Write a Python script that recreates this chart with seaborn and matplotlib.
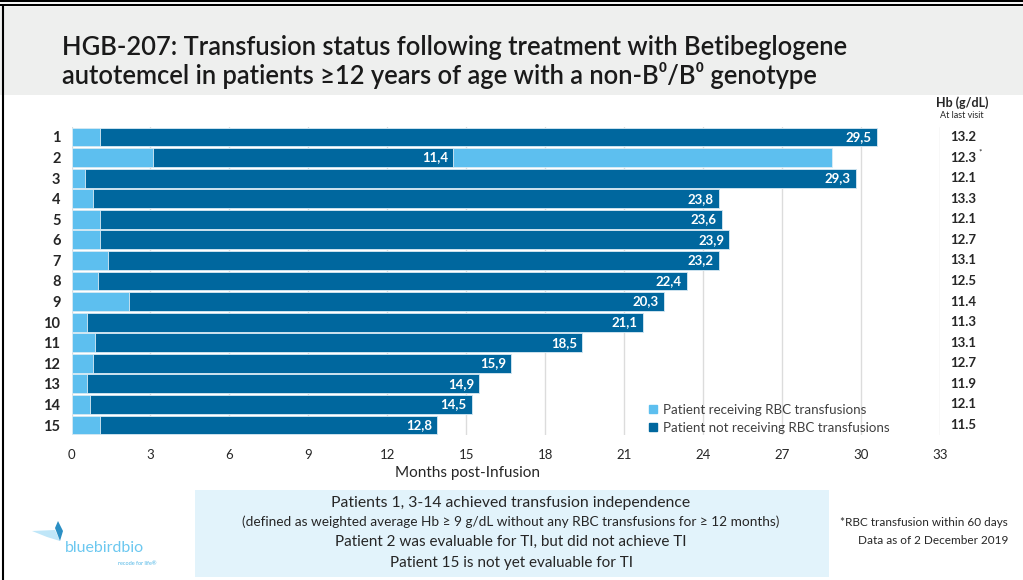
import numpy as np
import pandas as pd
import matplotlib
matplotlib.use("Agg")
import matplotlib.pyplot as plt
from matplotlib.patches import Rectangle, Polygon
from matplotlib.lines import Line2D
import matplotlib.transforms as mtransforms
import seaborn as sns

# ---------------- data ----------------
patients = [str(i) for i in range(1, 16)]
transfusion_start = [1.1, 3.1, 0.5, 0.8, 1.1, 1.1, 1.4, 1.0, 2.2, 0.6, 0.9, 0.8, 0.6, 0.7, 1.1]
free_months = [29.5, 11.4, 29.3, 23.8, 23.6, 23.9, 23.2, 22.4, 20.3, 21.1, 18.5, 15.9, 14.9, 14.5, 12.8]
transfusion_after = [0, 14.4, 0, 0, 0, 0, 0, 0, 0, 0, 0, 0, 0, 0, 0]
free_labels = ["29,5", "11,4", "29,3", "23,8", "23,6", "23,9", "23,2", "22,4",
               "20,3", "21,1", "18,5", "15,9", "14,9", "14,5", "12,8"]
hb_values = ["13.2", "12.3", "12.1", "13.3", "12.1", "12.7", "13.1", "12.5",
             "11.4", "11.3", "13.1", "12.7", "11.9", "12.1", "11.5"]
hb_marks = ["", "*", "", "", "", "", "", "", "", "", "", "", "", "", ""]
x_ticks = [0, 3, 6, 9, 12, 15, 18, 21, 24, 27, 30, 33]
legend_labels = ["Patient receiving RBC transfusions", "Patient not receiving RBC transfusions"]

LIGHT = "#5dbfef"
DARK = "#00679e"
TXT = "#262626"

sns.set_theme(style="white")
plt.rcParams["font.family"] = ["Lato", "DejaVu Sans"]

light_end = np.array(transfusion_start)
dark_end = light_end + np.array(free_months)
total_end = dark_end + np.array(transfusion_after)
df = pd.DataFrame({"patient": patients, "light_end": light_end,
                   "dark_end": dark_end, "total_end": total_end})

W, H = 1023, 580
fig = plt.figure(figsize=(W / 100, H / 100), dpi=100)
fig.patch.set_facecolor("white")

def fx(px):
    return px / W

def fy(py):
    return 1 - py / H

# top grey band and frame
fig.patches.append(Rectangle((0, fy(95)), 1, fy(7) - fy(95), transform=fig.transFigure,
                             facecolor="#eeefee", edgecolor="none", zorder=0))
fig.add_artist(Line2D([0, 1], [fy(1), fy(1)], color="black", lw=1.5, transform=fig.transFigure))
fig.add_artist(Line2D([0, 1], [fy(5), fy(5)], color="black", lw=1.5, transform=fig.transFigure))
fig.add_artist(Line2D([fx(3), fx(3)], [0, fy(5)], color="black", lw=1.5, transform=fig.transFigure))

ax = fig.add_axes([fx(71.5), fy(435.3), fx(940) - fx(71.5), fy(126.7) - fy(435.3)])
ax.set_facecolor("none")

bw = 0.92
sns.barplot(data=df, x="total_end", y="patient", orient="h", color=LIGHT, saturation=1,
            width=bw, edgecolor="#dcecf5", linewidth=0.6, ax=ax, zorder=2)
sns.barplot(data=df, x="dark_end", y="patient", orient="h", color=DARK, saturation=1,
            width=bw, edgecolor="#dcecf5", linewidth=0.6, ax=ax, zorder=3)
sns.barplot(data=df, x="light_end", y="patient", orient="h", color=LIGHT, saturation=1,
            width=bw, edgecolor="#dcecf5", linewidth=0.6, ax=ax, zorder=4)

ax.set_xlim(0, 33)
ax.set_ylim(14.5, -0.5)
ax.set_xticks(x_ticks)
ax.set_xticklabels([str(t) for t in x_ticks], fontsize=9.5, color=TXT)
ax.tick_params(axis="x", length=0, pad=10)
ax.tick_params(axis="y", length=0, pad=8)
ax.set_yticks(range(len(patients)))
ax.set_yticklabels(patients, fontsize=10.5, fontweight="bold", color=TXT)
for s in ax.spines.values():
    s.set_visible(False)
for t in x_ticks:
    ax.axvline(t, color="#dcdcdc", lw=1, zorder=1)
ax.set_xlabel("Months post-Infusion", fontsize=11, color=TXT, labelpad=4)
ax.xaxis.set_label_coords((468 - 71.5) / (940 - 71.5), -0.1)
ax.set_ylabel("")

blend = mtransforms.blended_transform_factory(fig.transFigure, ax.transData)
for i in range(len(patients)):
    ax.text(dark_end[i] - 0.2, i, free_labels[i], ha="right", va="center",
            color="white", fontsize=9.5, fontweight="bold", zorder=6)
    ax.text(fx(963), i, hb_values[i], ha="center", va="center", color=TXT,
            fontsize=9.5, fontweight="bold", transform=blend, clip_on=False)
    if hb_marks[i]:
        ax.text(fx(978), i - 0.28, hb_marks[i], ha="left", va="center", color=TXT,
                fontsize=6, transform=blend, clip_on=False)

fig.text(fx(962), fy(103), "Hb (g/dL)", ha="center", va="center", fontsize=9,
         fontweight="bold", color=TXT)
fig.text(fx(962), fy(115.5), "At last visit", ha="center", va="center", fontsize=6.5,
         color=TXT)

handles = [Rectangle((0, 0), 1, 1, color=LIGHT), Rectangle((0, 0), 1, 1, color=DARK)]
fig.legend(handles, legend_labels, loc="lower left",
           bbox_to_anchor=(fx(640), fy(443)), frameon=False, fontsize=9.6,
           handlelength=0.6, handleheight=0.6, handletextpad=0.4, labelspacing=0.45,
           labelcolor="#404040", borderpad=0.2)

# title
fig.text(fx(62), fy(55), "HGB-207: Transfusion status following treatment with Betibeglogene",
         ha="left", va="baseline", fontsize=18.4, fontweight="semibold", color="#1a1a1a")
fig.text(fx(62), fy(84), "autotemcel in patients \u226512 years of age with a non-\u0392\u2070/\u0392\u2070 genotype",
         ha="left", va="baseline", fontsize=18.4, fontweight="semibold", color="#1a1a1a")

# bottom box
fig.patches.append(Rectangle((fx(195), fy(577)), fx(829) - fx(195), fy(490) - fy(577),
                             transform=fig.transFigure, facecolor="#e2f3fb",
                             edgecolor="none", zorder=0))
cx = fx(511)
fig.text(cx, fy(503), "Patients 1, 3-14 achieved transfusion independence", ha="center",
         va="center", fontsize=11.3, color=TXT)
fig.text(cx, fy(522), "(defined as weighted average Hb \u2265 9 g/dL without any RBC transfusions for \u2265 12 months)",
         ha="center", va="center", fontsize=9.8, color=TXT)
fig.text(cx, fy(542), "Patient 2 was evaluable for TI, but did not achieve TI", ha="center",
         va="center", fontsize=11, color=TXT)
fig.text(cx, fy(563), "Patient 15 is not yet evaluable for TI", ha="center",
         va="center", fontsize=11, color=TXT)

fig.text(fx(1008), fy(523), "*RBC transfusion within 60 days", ha="right", va="center",
         fontsize=8.5, color=TXT)
fig.text(fx(1008), fy(541), "Data as of 2 December 2019", ha="right", va="center",
         fontsize=8.5, color=TXT)

# logo
fig.patches.append(Polygon([(fx(32), fy(531)), (fx(55), fy(530)), (fx(60), fy(541)), (fx(47), fy(537))],
                           closed=True, transform=fig.transFigure, facecolor="#bfe6f8",
                           edgecolor="none"))
fig.patches.append(Polygon([(fx(55), fy(528)), (fx(58), fy(521)), (fx(63), fy(531)), (fx(60), fy(541))],
                           closed=True, transform=fig.transFigure, facecolor="#2b8fc4",
                           edgecolor="none"))
fig.text(fx(65), fy(552), "bluebirdbio", ha="left", va="baseline", fontsize=11.5,
         color="#6cc8f0")
fig.text(fx(157), fy(565), "recode for life\u00ae", ha="right", va="baseline", fontsize=4,
         color="#4fb6e6")

fig.savefig("out.png", dpi=100)
